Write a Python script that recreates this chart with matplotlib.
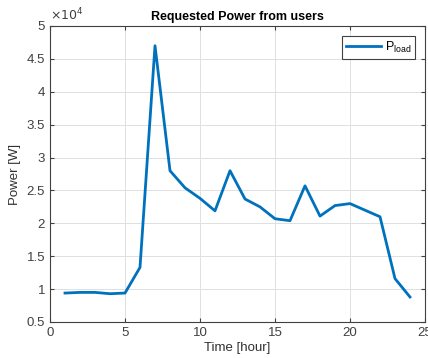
import numpy as np
import matplotlib.pyplot as plt
from matplotlib.ticker import FuncFormatter

plt.rcParams['font.family'] = ['Liberation Sans', 'DejaVu Sans']

# hourly requested power (W)
hours = list(range(1, 25))
power = [9400, 9500, 9500, 9300, 9400, 13300, 47000, 28000, 25400, 23800,
         21900, 28000, 23700, 22500, 20700, 20400, 25700, 21100, 22700, 23000,
         22000, 21000, 11600, 8800]

fig = plt.figure(figsize=(4.28, 3.58), dpi=100)
ax = fig.add_axes([50/428, 36/358, 375/428, 296/358])

ax.plot(hours, power, color=(0, 0.447, 0.741), lw=2, label=r'P$_{\mathregular{load}}$')

ax.set_xlim(0, 25)
ax.set_ylim(5000, 50000)
ax.set_xticks([0, 5, 10, 15, 20, 25])
ax.set_yticks(np.arange(5000, 50001, 5000))
ax.yaxis.set_major_formatter(FuncFormatter(lambda v, p: '%g' % (v / 1e4)))
ax.text(0, 1.01, r'$\times10^4$', transform=ax.transAxes, fontsize=9,
        color='#404040', ha='left', va='bottom')

ax.grid(True, color='#e0e0e0', lw=0.7)
ax.set_axisbelow(True)
ax.tick_params(direction='in', top=True, right=True, labelsize=9.5,
               colors='#404040', length=3)
for s in ax.spines.values():
    s.set_color('#404040')
    s.set_linewidth(0.8)

ax.set_title('Requested Power from users', fontsize=9, fontweight='bold', pad=4)
ax.set_xlabel('Time [hour]', fontsize=9.5, color='#303030', labelpad=2)
ax.set_ylabel('Power [W]', fontsize=9.5, color='#303030', labelpad=4)

leg = ax.legend(loc='upper right', fontsize=9, fancybox=False, framealpha=1,
                edgecolor='#404040', handlelength=2.8, borderpad=0.3,
                handletextpad=0.3, borderaxespad=0.8)
leg.get_frame().set_linewidth(0.8)

fig.savefig('out.png', dpi=100)
